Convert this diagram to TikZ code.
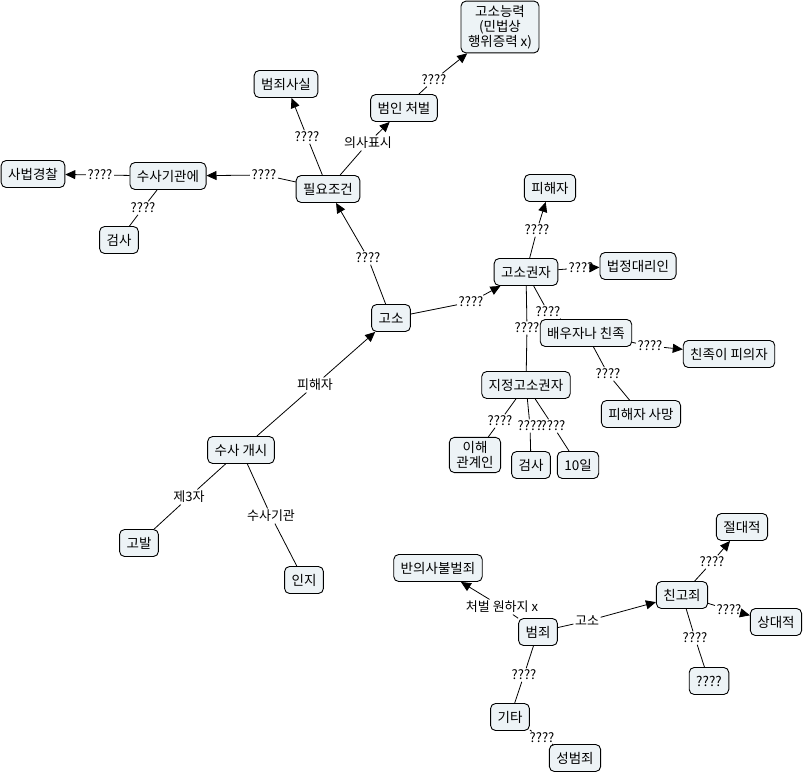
\documentclass[tikz,border=0pt]{standalone}
\usepackage{fontspec}
\setmainfont{Noto Sans CJK KR}
\usetikzlibrary{arrows.meta}
\definecolor{cmapfill}{RGB}{237,243,246}
\tikzset{
  concept/.style={draw=black, line width=0.9pt, rounded corners=5pt, fill=cmapfill,
    inner xsep=7pt, inner ysep=4pt, minimum height=27pt, align=center,
    font=\fontsize{13.5}{15}\selectfont},
  linklbl/.style={inner sep=1.5pt, font=\fontsize{13}{14}\selectfont},
  link/.style={line width=0.8pt},
  arrlink/.style={link, -{Triangle[length=10pt,width=9pt]}}
}
\begin{document}
\begin{tikzpicture}[x=1pt, y=-1pt]
  \useasboundingbox (0,0) rectangle (804,774);
  % concepts
  \node[concept] (gosonr) at (500,27) {고소능력\\(민법상\\행위증력 x)};
  \node[concept] (bjss) at (286,84) {범죄사실};
  \node[concept] (bicb) at (404,108) {범인 처벌};
  \node[concept] (pyjg) at (328,189) {필요조건};
  \node[concept] (sbgc) at (33,174) {사법경찰};
  \node[concept] (ssgg) at (168,176) {수사기관에};
  \node[concept] (gsa) at (119,240) {검사};
  \node[concept] (phj) at (550,188) {피해자};
  \node[concept] (gsgj) at (526,272) {고소권자};
  \node[concept] (bjdr) at (638,266) {법정대리인};
  \node[concept] (bwjn) at (586,333) {배우자나 친족};
  \node[concept] (cjpu) at (729,354) {친족이 피의자};
  \node[concept] (goso) at (391,318) {고소};
  \node[concept] (jjgs) at (526,385) {지정고소권자};
  \node[concept] (phsm) at (641,414) {피해자 사망};
  \node[concept] (ihgg) at (475,455) {이해\\관계인};
  \node[concept] (gsb) at (531,465) {검사};
  \node[concept] (ten) at (578,465) {10일};
  \node[concept] (ssgs) at (241,450) {수사 개시};
  \node[concept] (gobal) at (139,543) {고발};
  \node[concept] (inji) at (304,580) {인지};
  \node[concept] (bubj) at (438,568) {반의사불벌죄};
  \node[concept] (bj) at (538,632) {범죄};
  \node[concept] (cgj) at (682,595) {친고죄};
  \node[concept] (jdj) at (742,527) {절대적};
  \node[concept] (sdj) at (776,622) {상대적};
  \node[concept] (unk) at (709,681) {????};
  \node[concept] (gita) at (510,717) {기타};
  \node[concept] (sbj) at (575,758) {성범죄};
  % link labels
  \node[linklbl] (l1) at (307,137) {????};
  \node[linklbl] (l2) at (368,143) {의사표시};
  \node[linklbl] (l3) at (434,80) {????};
  \node[linklbl] (l4) at (264,175) {????};
  \node[linklbl] (l5) at (100,175) {????};
  \node[linklbl] (l6) at (143,208) {????};
  \node[linklbl] (l7) at (368,258) {????};
  \node[linklbl] (l8) at (471,302) {????};
  \node[linklbl] (l9) at (537,230) {????};
  \node[linklbl] (l10) at (581,268) {????};
  \node[linklbl] (l11) at (548,312) {????};
  \node[linklbl] (l12) at (527,328) {????};
  \node[linklbl] (l13) at (650,346) {????};
  \node[linklbl] (l14) at (608,374) {????};
  \node[linklbl] (l15) at (500,421) {????};
  \node[linklbl] (l16) at (530,426) {????};
  \node[linklbl] (l17) at (553,426) {????};
  \node[linklbl] (l18) at (315,385) {피해자};
  \node[linklbl] (l19) at (189,497) {제3자};
  \node[linklbl] (l20) at (271,516) {수사기관};
  \node[linklbl] (l21) at (502,607) {처벌 원하지 x};
  \node[linklbl] (l22) at (587,621) {고소};
  \node[linklbl] (l23) at (712,562) {????};
  \node[linklbl] (l24) at (729,610) {????};
  \node[linklbl] (l25) at (695,638) {????};
  \node[linklbl] (l26) at (524,675) {????};
  \node[linklbl] (l27) at (542,738) {????};
  % links
  \draw[arrlink] (pyjg) -- (l1) -- (bjss);
  \draw[arrlink] (pyjg) -- (l2) -- (bicb);
  \draw[arrlink] (bicb) -- (l3) -- (gosonr);
  \draw[arrlink] (pyjg) -- (l4) -- (ssgg);
  \draw[arrlink] (ssgg) -- (l5) -- (sbgc);
  \draw[link] (ssgg) -- (l6) -- (gsa);
  \draw[arrlink] (goso) -- (l7) -- (pyjg);
  \draw[arrlink] (goso) -- (l8) -- (gsgj);
  \draw[arrlink] (gsgj) -- (l9) -- (phj);
  \draw[arrlink] (gsgj) -- (l10) -- (bjdr);
  \draw[link] (gsgj) -- (l11) -- (bwjn);
  \draw[link] (gsgj) -- (l12) -- (jjgs);
  \draw[arrlink] (bwjn) -- (l13) -- (cjpu);
  \draw[link] (bwjn) -- (l14) -- (phsm);
  \draw[link] (jjgs) -- (l15) -- (ihgg);
  \draw[link] (jjgs) -- (l16) -- (gsb);
  \draw[link] (jjgs) -- (l17) -- (ten);
  \draw[arrlink] (ssgs) -- (l18) -- (goso);
  \draw[link] (ssgs) -- (l19) -- (gobal);
  \draw[link] (ssgs) -- (l20) -- (inji);
  \draw[arrlink] (bj) -- (l21) -- (bubj);
  \draw[arrlink] (bj) -- (l22) -- (cgj);
  \draw[arrlink] (cgj) -- (l23) -- (jdj);
  \draw[arrlink] (cgj) -- (l24) -- (sdj);
  \draw[link] (cgj) -- (l25) -- (unk);
  \draw[link] (bj) -- (l26) -- (gita);
  \draw[link] (gita) -- (l27) -- (sbj);
\end{tikzpicture}
\end{document}
